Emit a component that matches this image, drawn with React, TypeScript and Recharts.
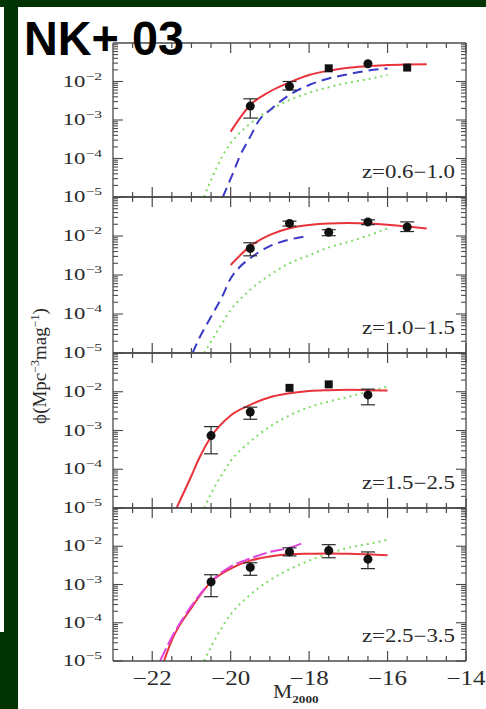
import React from "react";
import { ComposedChart, Line, Scatter, ErrorBar, XAxis, YAxis } from "recharts";

// ---------- axes ----------
const X_DOMAIN = [-23, -14];
const X_TICKS = [
  -22.5, -22, -21.5, -21, -20.5, -20, -19.5, -19, -18.5, -18, -17.5, -17,
  -16.5, -16, -15.5, -15, -14.5, -14,
];
const X_LABELED = [-22, -20, -18, -16, -14];
const X_TICK_LABELS = ["−22", "−20", "−18", "−16", "−14"];

const Y_DOMAIN = [1e-5, 1e-1];
const Y_MAJOR = [1e-5, 1e-4, 1e-3, 1e-2];
const Y_EXPONENTS = ["−5", "−4", "−3", "−2"];
const MANTISSAS = [2, 3, 4, 5, 6, 7, 8, 9];
const Y_MINOR = Y_MAJOR.flatMap((d) => MANTISSAS.map((m) => m * d));
const Y_TICKS = [...Y_MAJOR, ...Y_MINOR];

const Z_LABELS = ["z=0.6−1.0", "z=1.0−1.5", "z=1.5−2.5", "z=2.5−3.5"];

// ---------- z = 0.6-1.0 ----------
const red1 = [
  { m: -20, phi: 5.0e-4 }, { m: -19.5, phi: 2.45e-3 }, { m: -19, phi: 5.5e-3 },
  { m: -18.5, phi: 9.5e-3 }, { m: -18, phi: 1.48e-2 }, { m: -17.5, phi: 1.91e-2 },
  { m: -17, phi: 2.29e-2 }, { m: -16.5, phi: 2.51e-2 }, { m: -16, phi: 2.69e-2 },
  { m: -15.5, phi: 2.75e-2 }, { m: -15, phi: 2.82e-2 },
];
const blue1 = [
  { m: -20.2, phi: 1e-5 }, { m: -19.94, phi: 4.2e-5 }, { m: -19.77, phi: 1.12e-4 },
  { m: -19.5, phi: 3.7e-4 }, { m: -19.27, phi: 1.0e-3 }, { m: -19, phi: 1.8e-3 },
  { m: -18.5, phi: 4.5e-3 }, { m: -18, phi: 8.1e-3 }, { m: -17.5, phi: 1.2e-2 },
  { m: -17, phi: 1.55e-2 }, { m: -16.5, phi: 1.91e-2 }, { m: -16, phi: 2.19e-2 },
];
const green1 = [
  { m: -20.68, phi: 1e-5 }, { m: -20.5, phi: 2.75e-5 }, { m: -20.22, phi: 1.12e-4 },
  { m: -20, phi: 2.5e-4 }, { m: -19.5, phi: 8.1e-4 }, { m: -19, phi: 1.8e-3 },
  { m: -18.5, phi: 3.3e-3 }, { m: -18, phi: 5.1e-3 }, { m: -17.5, phi: 7.1e-3 },
  { m: -17, phi: 9.3e-3 }, { m: -16.5, phi: 1.15e-2 }, { m: -16, phi: 1.48e-2 },
];
const obs1 = [
  { m: -19.5, phi: 2.3e-3, lo: 1.12e-3, hi: 3.55e-3, kind: "c" },
  { m: -18.5, phi: 7.5e-3, lo: 6.0e-3, hi: 1.0e-2, kind: "c" },
  { m: -17.5, phi: 2.2e-2, kind: "s" },
  { m: -16.5, phi: 2.9e-2, kind: "c" },
  { m: -15.5, phi: 2.3e-2, kind: "s" },
];

// ---------- z = 1.0-1.5 ----------
const red2 = [
  { m: -20, phi: 1.8e-3 }, { m: -19.5, phi: 5.5e-3 }, { m: -19, phi: 1.07e-2 },
  { m: -18.5, phi: 1.58e-2 }, { m: -18, phi: 1.91e-2 }, { m: -17.5, phi: 2.09e-2 },
  { m: -17, phi: 2.14e-2 }, { m: -16.5, phi: 2.09e-2 }, { m: -16, phi: 1.95e-2 },
  { m: -15.5, phi: 1.74e-2 }, { m: -15, phi: 1.55e-2 },
];
const blue2 = [
  { m: -20.97, phi: 1e-5 }, { m: -20.8, phi: 2.4e-5 }, { m: -20.5, phi: 8.5e-5 },
  { m: -20.22, phi: 2.75e-4 }, { m: -20, phi: 8.1e-4 }, { m: -19.77, phi: 1.6e-3 },
  { m: -19.5, phi: 2.7e-3 }, { m: -19, phi: 5.5e-3 }, { m: -18.5, phi: 8.1e-3 },
  { m: -18, phi: 1.0e-2 },
];
const green2 = [
  { m: -20.68, phi: 1e-5 }, { m: -20.5, phi: 1.95e-5 }, { m: -20.22, phi: 5.75e-5 },
  { m: -20, phi: 1.26e-4 }, { m: -19.5, phi: 4.2e-4 }, { m: -19, phi: 1.0e-3 },
  { m: -18.5, phi: 2.0e-3 }, { m: -18, phi: 3.2e-3 }, { m: -17.5, phi: 5.1e-3 },
  { m: -17, phi: 7.1e-3 }, { m: -16.5, phi: 1.02e-2 }, { m: -16, phi: 1.58e-2 },
];
const obs2 = [
  { m: -19.5, phi: 4.8e-3, lo: 3.1e-3, hi: 6.7e-3, kind: "c" },
  { m: -18.5, phi: 2.1e-2, lo: 1.8e-2, hi: 2.4e-2, kind: "c" },
  { m: -17.5, phi: 1.24e-2, lo: 1.02e-2, hi: 1.45e-2, kind: "c" },
  { m: -16.5, phi: 2.3e-2, lo: 1.95e-2, hi: 2.6e-2, kind: "c" },
  { m: -15.5, phi: 1.7e-2, lo: 1.3e-2, hi: 2.3e-2, kind: "c" },
];

// ---------- z = 1.5-2.5 ----------
const red3 = [
  { m: -21.38, phi: 1e-5 }, { m: -21, phi: 6.8e-5 }, { m: -20.8, phi: 1.95e-4 },
  { m: -20.5, phi: 6.9e-4 }, { m: -20, phi: 2.45e-3 }, { m: -19.5, phi: 4.6e-3 },
  { m: -19, phi: 7.2e-3 }, { m: -18.5, phi: 9.1e-3 }, { m: -18, phi: 1.05e-2 },
  { m: -17.5, phi: 1.1e-2 }, { m: -17, phi: 1.12e-2 }, { m: -16.5, phi: 1.1e-2 },
  { m: -16, phi: 1.07e-2 },
];
const green3 = [
  { m: -20.68, phi: 1e-5 }, { m: -20.5, phi: 2.35e-5 }, { m: -20.22, phi: 7.4e-5 },
  { m: -20, phi: 1.62e-4 }, { m: -19.5, phi: 5.2e-4 }, { m: -19, phi: 1.26e-3 },
  { m: -18.5, phi: 2.45e-3 }, { m: -18, phi: 4.0e-3 }, { m: -17.5, phi: 5.6e-3 },
  { m: -17, phi: 7.4e-3 }, { m: -16.5, phi: 1.0e-2 }, { m: -16, phi: 1.35e-2 },
];
const obs3 = [
  { m: -20.5, phi: 7.4e-4, lo: 2.5e-4, hi: 1.26e-3, kind: "c" },
  { m: -19.5, phi: 3.0e-3, lo: 1.95e-3, hi: 4.0e-3, kind: "c" },
  { m: -18.5, phi: 1.26e-2, kind: "s" },
  { m: -17.5, phi: 1.55e-2, kind: "s" },
  { m: -16.5, phi: 8.3e-3, lo: 4.6e-3, hi: 1.17e-2, kind: "c" },
];

// ---------- z = 2.5-3.5 ----------
const red4 = [
  { m: -21.7, phi: 1e-5 }, { m: -21.5, phi: 3.5e-5 }, { m: -21, phi: 2.45e-4 },
  { m: -20.5, phi: 1.17e-3 }, { m: -20, phi: 2.6e-3 }, { m: -19.5, phi: 4.2e-3 },
  { m: -19, phi: 5.4e-3 }, { m: -18.5, phi: 6.2e-3 }, { m: -18, phi: 6.4e-3 },
  { m: -17.5, phi: 6.5e-3 }, { m: -17, phi: 6.4e-3 }, { m: -16.5, phi: 6.2e-3 },
  { m: -16, phi: 5.8e-3 },
];
const magenta4 = [
  { m: -21.8, phi: 1e-5 }, { m: -21.5, phi: 4.2e-5 }, { m: -21, phi: 2.75e-4 },
  { m: -20.5, phi: 1.2e-3 }, { m: -20, phi: 2.95e-3 }, { m: -19.5, phi: 4.8e-3 },
  { m: -19, phi: 7.1e-3 }, { m: -18.5, phi: 9.1e-3 }, { m: -18.2, phi: 1.17e-2 },
];
const green4 = [
  { m: -20.68, phi: 1e-5 }, { m: -20.5, phi: 2.35e-5 }, { m: -20.22, phi: 7.6e-5 },
  { m: -20, phi: 1.66e-4 }, { m: -19.5, phi: 5.4e-4 }, { m: -19, phi: 1.3e-3 },
  { m: -18.5, phi: 2.5e-3 }, { m: -18, phi: 4.2e-3 }, { m: -17.5, phi: 6.5e-3 },
  { m: -17, phi: 9.1e-3 }, { m: -16.5, phi: 1.15e-2 }, { m: -16, phi: 1.48e-2 },
];
const obs4 = [
  { m: -20.5, phi: 1.17e-3, lo: 4.8e-4, hi: 1.8e-3, kind: "c" },
  { m: -19.5, phi: 2.8e-3, lo: 1.74e-3, hi: 3.7e-3, kind: "c" },
  { m: -18.5, phi: 7.1e-3, lo: 5.6e-3, hi: 9.1e-3, kind: "c" },
  { m: -17.5, phi: 7.7e-3, lo: 5.0e-3, hi: 1.1e-2, kind: "c" },
  { m: -16.5, phi: 4.6e-3, lo: 2.6e-3, hi: 7.1e-3, kind: "c" },
];

// ---------- layout / style ----------
const W = 486;
const H = 709;
const PLOT_LEFT = 113;
const PLOT_RIGHT = 466;
const AX = 1; // axis thickness reserved by recharts (0 would hide the axis)
const FRAME = "#4a4a4a";
const INK = "#2a2a2a";
const SERIF = "'Liberation Serif', 'DejaVu Serif', serif";
const RED = "#e8333b";
const BLUE = "#3a3ac8";
const GREEN = "#7fdc66";
const MAGENTA = "#e044dc";

const PANELS = [
  { top: 43, bottom: 197, obs: obs1, curves: [
    { data: green1, color: GREEN, dash: "2 4" },
    { data: blue1, color: BLUE, dash: "10 6" },
    { data: red1, color: RED },
  ] },
  { top: 197, bottom: 353, obs: obs2, curves: [
    { data: green2, color: GREEN, dash: "2 4" },
    { data: blue2, color: BLUE, dash: "10 6" },
    { data: red2, color: RED },
  ] },
  { top: 353, bottom: 508, obs: obs3, curves: [
    { data: green3, color: GREEN, dash: "2 4" },
    { data: red3, color: RED },
  ] },
  { top: 508, bottom: 661, obs: obs4, curves: [
    { data: green4, color: GREEN, dash: "2 4" },
    { data: red4, color: RED },
    { data: magenta4, color: MAGENTA, dash: "14 4" },
  ] },
];

function XTick(props: any) {
  const { x, y, payload, side, showLabel } = props;
  const v = payload.value;
  const major = v % 2 === 0;
  const len = major ? 10 : 5;
  const dir = side === "bottom" ? -1 : 1;
  const li = X_LABELED.indexOf(v);
  return (
    <g>
      <line x1={x} y1={y} x2={x} y2={y + dir * len} stroke={FRAME} strokeWidth={1.2} />
      {showLabel && li >= 0 && (
        <g transform={`translate(${x},${y + 24}) scale(1.25,1)`}>
          <text textAnchor="middle" fontFamily={SERIF} fontSize={20} fill={INK}>
            {X_TICK_LABELS[li]}
          </text>
        </g>
      )}
    </g>
  );
}

function YTick(props: any) {
  const { x, y, payload, side } = props;
  const i = Y_MAJOR.indexOf(payload.value);
  const len = i >= 0 ? 10 : 5;
  const dir = side === "left" ? 1 : -1;
  return (
    <g>
      <line x1={x} y1={y} x2={x + dir * len} y2={y} stroke={FRAME} strokeWidth={1.1} />
      {side === "left" && i >= 0 && (
        <g transform={`translate(${x - 11},${y + 5}) scale(1.42,1)`}>
          <text textAnchor="end" fontFamily={SERIF} fontSize={16} fill={INK}>
            10
            <tspan fontSize={11} dy={-7}>{Y_EXPONENTS[i]}</tspan>
          </text>
        </g>
      )}
    </g>
  );
}

function Marker(props: any) {
  const { cx, cy, payload } = props;
  if (payload.kind === "s") {
    return <rect x={cx - 4} y={cy - 4} width={8} height={8} fill="#111" />;
  }
  return <circle cx={cx} cy={cy} r={4.5} fill="#111" />;
}

function Panel({ top, bottom, obs, curves, last }: any) {
  const points = obs.map((p: any) => ({
    ...p,
    err: p.lo != null ? [p.phi - p.lo, p.hi - p.phi] : undefined,
  }));
  const axisLine = { stroke: FRAME, strokeWidth: 1.3 };
  return (
    <div style={{ position: "absolute", left: 0, top: 0 }}>
      <ComposedChart
        width={W}
        height={H}
        margin={{
          top: top - AX,
          bottom: H - bottom - AX,
          left: PLOT_LEFT - AX,
          right: W - PLOT_RIGHT - AX,
        }}
      >
        <XAxis
          xAxisId="b"
          type="number"
          dataKey="m"
          domain={X_DOMAIN}
          allowDataOverflow
          ticks={X_TICKS}
          interval={0}
          height={AX}
          tickSize={0}
          tickMargin={0}
          axisLine={axisLine}
          tick={(p: any) => <XTick {...p} side="bottom" showLabel={last} />}
        />
        <XAxis
          xAxisId="t"
          orientation="top"
          type="number"
          dataKey="m"
          domain={X_DOMAIN}
          allowDataOverflow
          ticks={X_TICKS}
          interval={0}
          height={AX}
          tickSize={0}
          tickMargin={0}
          axisLine={axisLine}
          tick={(p: any) => <XTick {...p} side="top" />}
        />
        <YAxis
          yAxisId="l"
          type="number"
          scale="log"
          dataKey="phi"
          domain={Y_DOMAIN}
          allowDataOverflow
          ticks={Y_TICKS}
          interval={0}
          width={AX}
          tickSize={0}
          tickMargin={0}
          axisLine={axisLine}
          tick={(p: any) => <YTick {...p} side="left" />}
        />
        <YAxis
          yAxisId="r"
          orientation="right"
          type="number"
          scale="log"
          dataKey="phi"
          domain={Y_DOMAIN}
          allowDataOverflow
          ticks={Y_TICKS}
          interval={0}
          width={AX}
          tickSize={0}
          tickMargin={0}
          axisLine={axisLine}
          tick={(p: any) => <YTick {...p} side="right" />}
        />
        {curves.map((c: any, k: number) => (
          <Line
            key={k}
            data={c.data}
            dataKey="phi"
            xAxisId="b"
            yAxisId="l"
            type="monotone"
            stroke={c.color}
            strokeWidth={2}
            strokeDasharray={c.dash}
            dot={false}
            isAnimationActive={false}
          />
        ))}
        <Scatter
          data={points}
          dataKey="phi"
          xAxisId="b"
          yAxisId="l"
          shape={Marker}
          isAnimationActive={false}
        >
          <ErrorBar dataKey="err" direction="y" width={7} stroke={INK} strokeWidth={1.2} />
        </Scatter>
      </ComposedChart>
    </div>
  );
}

export default function App() {
  return (
    <div
      style={{
        position: "absolute",
        left: 0,
        top: 0,
        width: W,
        height: H,
        background: "#023302",
        overflow: "hidden",
      }}
    >
      <div style={{ position: "absolute", left: 0, top: 7, width: 4, height: 625, background: "#fff" }} />
      <div style={{ position: "absolute", left: 18, top: 7, width: W - 18, height: H - 7, background: "#fff" }} />
      {PANELS.map((p, i) => (
        <Panel key={i} {...p} last={i === PANELS.length - 1} />
      ))}
      <svg width={W} height={H} style={{ position: "absolute", left: 0, top: 0 }}>
        {PANELS.map((p, i) => (
          <g key={i} transform={`translate(455,${p.bottom - 19}) scale(1.27,1)`}>
            <text textAnchor="end" fontFamily={SERIF} fontSize={18} fill={INK}>
              {Z_LABELS[i]}
            </text>
          </g>
        ))}
        <text
          transform="translate(46,366) rotate(-90)"
          textAnchor="middle"
          fontFamily={SERIF}
          fontSize={19}
          fill={INK}
        >
          ϕ(Mpc
          <tspan fontSize={12} dy={-7}>−3</tspan>
          <tspan dy={7}>mag</tspan>
          <tspan fontSize={12} dy={-7}>−1</tspan>
          <tspan dy={7}>)</tspan>
        </text>
        <g transform="translate(273,698) scale(1.2,1)">
          <text fontFamily={SERIF} fontSize={18} fill={INK}>
            M
            <tspan fontSize={11} fontWeight="bold" dy={5}>2000</tspan>
          </text>
        </g>
        <text
          x={24}
          y={55}
          fontFamily="'Liberation Sans', Arial, sans-serif"
          fontWeight="bold"
          fontSize={48}
          textLength={160}
          lengthAdjust="spacingAndGlyphs"
          fill="#000"
        >
          NK+ 03
        </text>
      </svg>
    </div>
  );
}
